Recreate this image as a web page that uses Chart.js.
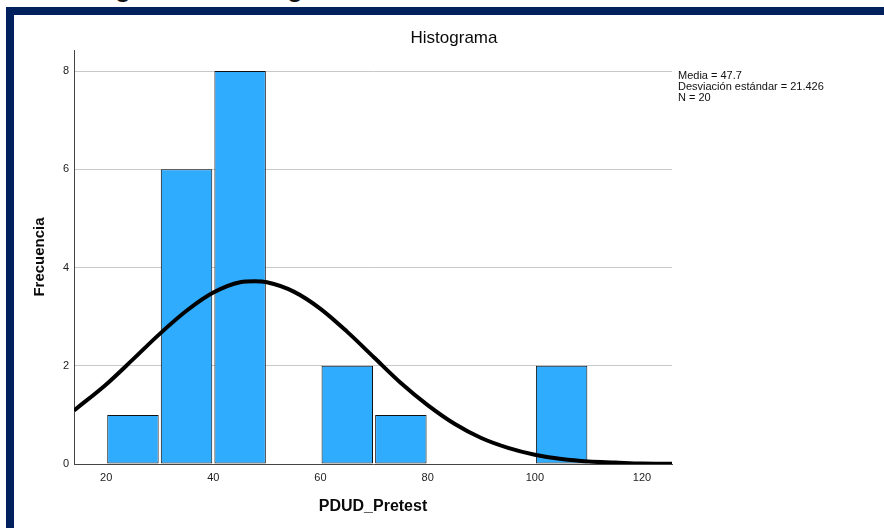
<!DOCTYPE html>
<html>
<head>
<meta charset="utf-8">
<script src="https://cdn.jsdelivr.net/npm/chart.js@4.4.1/dist/chart.umd.min.js"></script>
<style>
  html, body { margin: 0; padding: 0; background: #fff; }
  #page { position: relative; width: 884px; height: 528px; overflow: hidden; }
  #heading {
    position: absolute; left: 92px; top: -25px; white-space: nowrap;
    font: bold 26px/26px "Liberation Sans", Arial, sans-serif; color: #111;
  }
  #frame {
    position: absolute; left: 6px; top: 7px; width: 878px; height: 521px;
    border-top: 8px solid #00205e; border-left: 8px solid #00205e;
    box-sizing: border-box;
  }
  #chart { position: absolute; left: 0; top: 0; }
</style>
</head>
<body>
<div id="page">
  <div id="heading">Figura 10. Histograma de la variable PDUD Pretest</div>
  <div id="frame"></div>
  <canvas id="chart" width="884" height="528"></canvas>
</div>
<script>
// histogram bins (width 10), midpoints and counts
const binMids = [25, 35, 45, 65, 75, 105];
const binCounts = [1, 6, 8, 2, 1, 2];

// normal curve
const curveX = [14, 20, 25, 30, 35, 40, 45, 47.7, 50, 55, 60, 65, 70, 75, 80, 85, 90, 95, 100, 105, 110, 115, 120, 125.6];
const curveY = [1.09, 1.62, 2.13, 2.65, 3.12, 3.49, 3.70, 3.72, 3.70, 3.51, 3.16, 2.69, 2.17, 1.65, 1.20, 0.82, 0.53, 0.33, 0.19, 0.10, 0.05, 0.03, 0.01, 0.005];

const xTicks = [20, 40, 60, 80, 100, 120];
const yTicks = [0, 2, 4, 6, 8];

const chartTitle = "Histograma";
const statsLines = ["Media = 47.7", "Desviación estándar = 21.426", "N = 20"];

const FONT = '"Liberation Sans", Arial, sans-serif';

const textPlugin = {
    id: "spssTexts",
    afterDraw(chart) {
        const ctx = chart.ctx;
        ctx.save();
        ctx.fillStyle = "#0a0a0a";
        ctx.textBaseline = "middle";
        ctx.textAlign = "center";
        ctx.font = "17px " + FONT;
        ctx.fillText(chartTitle, 454, 38);
        ctx.textAlign = "left";
        ctx.font = "11px " + FONT;
        ctx.fillStyle = "#111";
        statsLines.forEach((line, i) => {
            ctx.fillText(line, chart.chartArea.right + 6, 76 + i * 11);
        });
        ctx.restore();
    },
};

const ctx = document.getElementById("chart");
new Chart(ctx, {
    data: {
        datasets: [
            {
                type: "line",
                order: 0,
                data: curveX.map((x, i) => ({ x, y: curveY[i] })),
                borderColor: "#000",
                borderWidth: 4,
                pointRadius: 0,
                cubicInterpolationMode: "monotone",
                fill: false,
            },
            {
                type: "bar",
                order: 1,
                data: binMids.map((x, i) => ({ x, y: binCounts[i] })),
                backgroundColor: "#30acff",
                borderColor: "#111",
                borderWidth: 1,
                borderSkipped: false,
                barPercentage: 0.96,
                categoryPercentage: 1,
            },
        ],
    },
    options: {
        responsive: false,
        animation: false,
        layout: { padding: { left: 0, top: 50, right: 212, bottom: 0 } },
        plugins: {
            legend: { display: false },
            tooltip: { enabled: false },
            title: { display: false },
        },
        scales: {
            x: {
                type: "linear",
                offset: false,
                min: 14,
                max: 125.6,
                afterBuildTicks: (axis) => {
                    axis.ticks = xTicks.map((v) => ({ value: v }));
                },
                afterFit: (axis) => {
                    axis.height = 64;
                },
                grid: { display: false, drawTicks: false, offset: false },
                border: { display: true, color: "#444", width: 1 },
                ticks: {
                    padding: 7,
                    color: "#222",
                    font: { family: FONT, size: 11 },
                },
                title: {
                    display: true,
                    text: "PDUD_Pretest",
                    color: "#0a0a0a",
                    font: { family: FONT, size: 16, weight: "bold" },
                    padding: { top: 0, bottom: 12 },
                },
            },
            y: {
                type: "linear",
                min: 0,
                max: 8.43,
                afterBuildTicks: (axis) => {
                    axis.ticks = yTicks.map((v) => ({ value: v }));
                },
                afterFit: (axis) => {
                    axis.width = 74;
                },
                grid: {
                    drawTicks: false,
                    color: (c) => (c.tick && c.tick.value === 0 ? "rgba(0,0,0,0)" : "#c8c8c8"),
                    lineWidth: 1,
                },
                border: { display: true, color: "#444", width: 1 },
                ticks: {
                    padding: 5,
                    color: "#222",
                    font: { family: FONT, size: 11 },
                },
                title: {
                    display: true,
                    text: "Frecuencia",
                    color: "#0a0a0a",
                    font: { family: FONT, size: 15, weight: "bold" },
                    padding: { top: 31, bottom: 0 },
                },
            },
        },
    },
    plugins: [textPlugin],
});
</script>
</body>
</html>
